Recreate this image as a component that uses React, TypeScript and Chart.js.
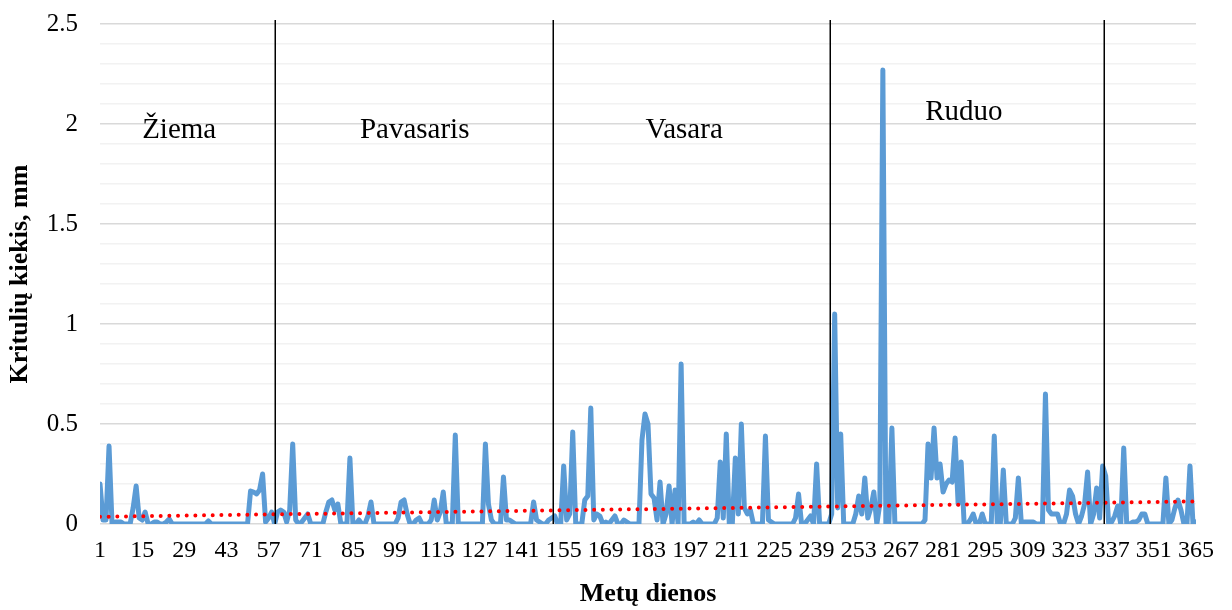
import React, { useEffect, useRef } from 'react';
import { Chart, registerables } from 'chart.js';

Chart.register(...registerables);

// Daily precipitation, mm (days 1–59: winter)
const winterValues = [
  0.2, 0.02, 0.02, 0.39, 0, 0.01, 0.01, 0.01, 0, 0,
  0, 0.08, 0.19, 0.03, 0.02, 0.06, 0, 0, 0.01, 0.01,
  0, 0, 0.01, 0.025, 0, 0, 0, 0, 0, 0,
  0, 0, 0, 0, 0, 0, 0.015, 0, 0, 0,
  0, 0, 0, 0, 0, 0, 0, 0, 0, 0,
  0.165, 0.16, 0.15, 0.17, 0.25, 0.01, 0.03, 0.06, 0,
];
// days 60–151: spring
const springValues = [
  0.06, 0.07, 0.06, 0.01, 0.07, 0.4, 0.02, 0, 0.01, 0.03,
  0.05, 0, 0, 0, 0, 0, 0.06, 0.11, 0.12, 0.07,
  0.1, 0, 0, 0, 0.33, 0, 0, 0.02, 0, 0,
  0.04, 0.11, 0, 0, 0, 0, 0, 0, 0, 0,
  0.03, 0.11, 0.12, 0.05, 0, 0, 0.02, 0.03, 0, 0,
  0, 0.02, 0.12, 0.02, 0.06, 0.16, 0, 0, 0, 0.445,
  0, 0, 0, 0, 0, 0, 0, 0, 0, 0.4,
  0.1, 0.02, 0, 0, 0, 0.235, 0.02, 0.02, 0.01, 0,
  0, 0, 0, 0, 0, 0.11, 0.02, 0.01, 0, 0,
  0.02, 0.03,
];
// days 152–243: summer
const summerValues = [
  0.04, 0, 0, 0.29, 0.02, 0.05, 0.46, 0, 0, 0,
  0.12, 0.14, 0.58, 0.02, 0.05, 0.04, 0, 0.01, 0, 0.02,
  0.04, 0, 0, 0.02, 0.01, 0, 0, 0, 0, 0.42,
  0.55, 0.5, 0.15, 0.13, 0.02, 0.21, 0, 0.05, 0.19, 0,
  0.17, 0, 0.8, 0, 0, 0, 0.01, 0, 0.02, 0,
  0, 0, 0, 0, 0.03, 0.31, 0.03, 0.45, 0, 0,
  0.33, 0.05, 0.5, 0.08, 0.05, 0.07, 0, 0, 0, 0,
  0.44, 0.02, 0.01, 0, 0, 0, 0, 0, 0, 0,
  0.03, 0.15, 0, 0, 0.02, 0.04, 0, 0.3, 0, 0,
  0, 0,
];
// days 244–334: autumn
const autumnValues = [
  0.05, 1.05, 0.08, 0.45, 0, 0, 0, 0, 0.05, 0.14,
  0.05, 0.23, 0.03, 0.08, 0.16, 0, 0.1, 2.27, 0, 0,
  0.48, 0, 0, 0, 0, 0, 0, 0, 0, 0,
  0, 0.02, 0.4, 0.23, 0.48, 0.23, 0.3, 0.16, 0.2, 0.22,
  0.21, 0.43, 0.1, 0.31, 0, 0, 0.02, 0.05, 0, 0,
  0.05, 0, 0, 0, 0.44, 0, 0, 0.27, 0, 0,
  0, 0.03, 0.23, 0, 0.01, 0.01, 0.01, 0.01, 0, 0,
  0, 0.65, 0.07, 0.05, 0.05, 0.05, 0, 0, 0.05, 0.17,
  0.14, 0.05, 0, 0.04, 0.1, 0.26, 0, 0.05, 0.18, 0.03,
  0.29,
];
// days 335–365: December (winter)
const decemberValues = [
  0.24, 0, 0.01, 0.04, 0.09, 0, 0.38, 0, 0, 0.01,
  0.01, 0.02, 0.05, 0.05, 0, 0, 0, 0, 0, 0,
  0.23, 0, 0.02, 0.08, 0.12, 0.07, 0, 0, 0.29, 0,
  0.01,
];

const dailyValues = [
  ...winterValues,
  ...springValues,
  ...summerValues,
  ...autumnValues,
  ...decemberValues,
];
const days = dailyValues.map((_, i) => i + 1);

// Linear trend end points
const trendDays = [1, 365];
const trendValues = [0.036, 0.113];

const xTickLabels = [
  1, 15, 29, 43, 57, 71, 85, 99, 113, 127, 141, 155, 169, 183,
  197, 211, 225, 239, 253, 267, 281, 295, 309, 323, 337, 351, 365,
];
const yTickLabels = [0, 0.5, 1, 1.5, 2, 2.5];

const seasonNames = ['Žiema', 'Pavasaris', 'Vasara', 'Ruduo'];
const seasonBoundaries = [59.2, 151.4, 243.4, 334.3];

const xTitle = 'Metų dienos';
const yTitle = 'Kritulių kiekis, mm';

const FONT = "'Liberation Serif', 'Times New Roman', serif";

// where the season names sit, in axis units
const seasonLabelAnchors = [
  { day: 27.3, value: 1.93 },
  { day: 105.5, value: 1.93 },
  { day: 195.0, value: 1.93 },
  { day: 287.9, value: 2.02 },
];

const seasonPlugin = {
  id: 'seasonPlugin',
  afterDatasetsDraw(chart: any) {
    const { ctx, chartArea, scales } = chart;
    const xs = scales.x;
    const ys = scales.y;
    ctx.save();
    ctx.strokeStyle = '#000000';
    ctx.lineWidth = 1.5;
    seasonBoundaries.forEach((d) => {
      const x = Math.round(xs.getPixelForValue(d)) + 0.25;
      ctx.beginPath();
      ctx.moveTo(x, chartArea.top - 4);
      ctx.lineTo(x, chartArea.bottom);
      ctx.stroke();
    });
    ctx.fillStyle = '#000000';
    ctx.font = `29px ${FONT}`;
    ctx.textAlign = 'center';
    ctx.textBaseline = 'alphabetic';
    seasonNames.forEach((name, i) => {
      const a = seasonLabelAnchors[i];
      ctx.fillText(name, xs.getPixelForValue(a.day), ys.getPixelForValue(a.value));
    });
    ctx.restore();
  },
};

export default function App() {
  const ref = useRef<HTMLCanvasElement | null>(null);

  useEffect(() => {
    if (!ref.current) return;
    const chart = new Chart(ref.current, {
      type: 'line',
      data: {
        datasets: [
          {
            label: 'Trend',
            data: trendDays.map((d, i) => ({ x: d, y: trendValues[i] })),
            borderColor: '#FF0000',
            borderWidth: 4,
            borderDash: [0, 8.67],
            borderCapStyle: 'round',
            pointRadius: 0,
            fill: false,
            tension: 0,
          },
          {
            label: 'Krituliai',
            data: days.map((d, i) => ({ x: d, y: dailyValues[i] })),
            borderColor: '#5B9BD5',
            borderWidth: 5,
            borderJoinStyle: 'round',
            borderCapStyle: 'round',
            pointRadius: 0,
            fill: false,
            tension: 0,
          },
        ],
      },
      options: {
        responsive: false,
        animation: false,
        devicePixelRatio: 1,
        layout: { padding: { left: 0, right: 36, top: 24, bottom: 0 } },
        plugins: {
          legend: { display: false },
          tooltip: { enabled: false },
        },
        scales: {
          x: {
            type: 'linear',
            min: 1,
            max: 365,
            afterBuildTicks: (scale: any) => {
              scale.ticks = xTickLabels.map((v) => ({ value: v }));
            },
            afterFit: (scale: any) => {
              scale.height = 86;
              scale.paddingLeft = 0;
              scale.paddingRight = 0;
            },
            grid: { display: false, drawTicks: false },
            border: { display: false },
            ticks: {
              autoSkip: false,
              maxRotation: 0,
              padding: 12,
              color: '#000000',
              font: { family: FONT, size: 24 },
              callback: (v: any) => String(v),
            },
            title: {
              display: true,
              text: xTitle,
              color: '#000000',
              font: { family: FONT, size: 26, weight: 'bold' },
              padding: { top: 0, bottom: 0 },
            },
          },
          y: {
            type: 'linear',
            min: 0,
            max: 2.5,
            afterFit: (scale: any) => {
              scale.width = 100;
              scale.paddingTop = 0;
              scale.paddingBottom = 0;
            },
            afterBuildTicks: (scale: any) => {
              const t: any[] = [];
              for (let i = 0; i <= 25; i++) t.push({ value: i / 10 });
              scale.ticks = t;
            },
            grid: {
              drawTicks: false,
              lineWidth: 1.5,
              color: (ctx: any) => {
                const v = ctx.tick ? ctx.tick.value : 0;
                return Math.round(v * 10) % 5 === 0 ? '#D9D9D9' : '#F2F2F2';
              },
            },
            border: { display: false },
            ticks: {
              autoSkip: false,
              padding: 22,
              color: '#000000',
              font: { family: FONT, size: 25 },
              callback: (v: any) => {
                const r = Math.round(Number(v) * 10) / 10;
                return yTickLabels.includes(r) ? String(r) : '';
              },
            },
            title: {
              display: true,
              text: yTitle,
              color: '#000000',
              font: { family: FONT, size: 26, weight: 'bold' },
              padding: { top: 5, bottom: 0 },
            },
          },
        },
      },
      plugins: [seasonPlugin],
    } as any);
    return () => chart.destroy();
  }, []);

  return (
    <div style={{ position: 'absolute', left: 0, top: 0, width: 1232, height: 610, background: '#ffffff' }}>
      <canvas ref={ref} width={1232} height={610} style={{ display: 'block', width: 1232, height: 610 }} />
    </div>
  );
}
